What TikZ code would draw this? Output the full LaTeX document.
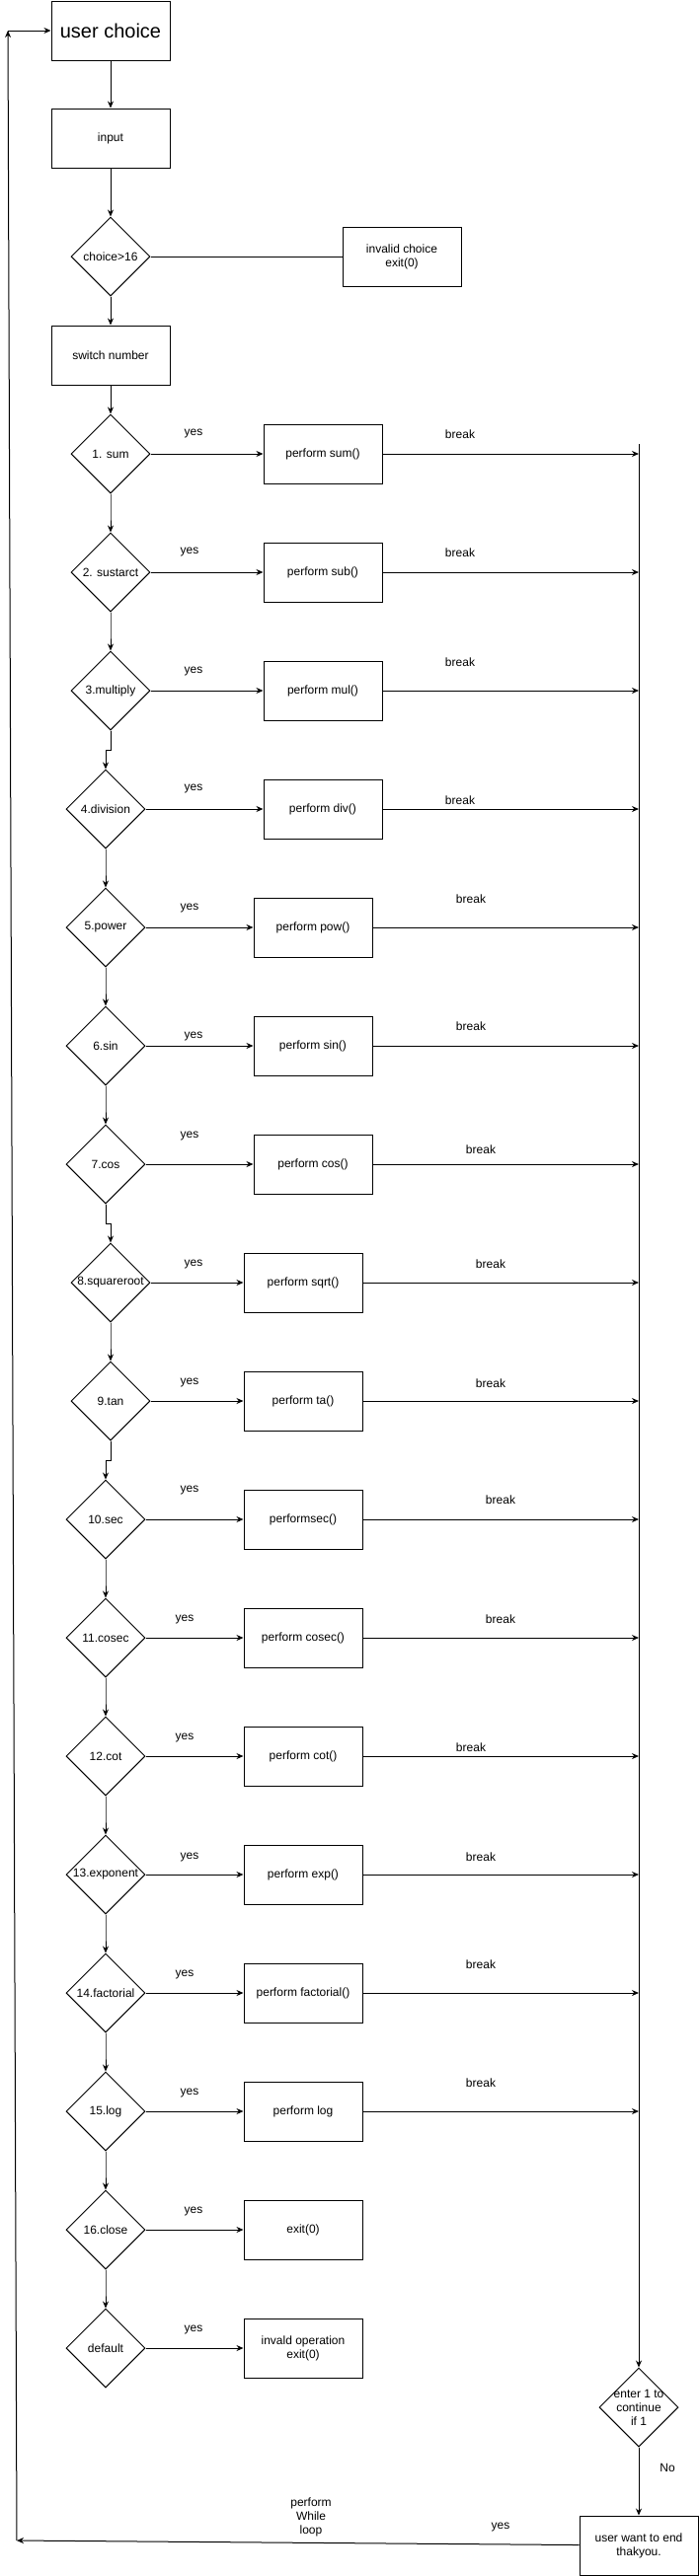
\documentclass[tikz,border=0pt]{standalone}
\usepackage{fontspec}
\setmainfont{Liberation Sans}
\usetikzlibrary{shapes.geometric,arrows.meta}

\begin{document}
\begin{tikzpicture}[x=1pt,y=-1pt,line width=1pt,
    box/.style={draw,rectangle,minimum width=120pt,minimum height=60pt,align=center,font=\fontsize{12}{14}\selectfont},
    dia/.style={draw,diamond,minimum width=80pt,minimum height=80pt,inner sep=0pt},
    arr/.style={-{Stealth[length=7pt,width=6pt]}},
    txt/.style={font=\fontsize{12}{14}\selectfont,align=center}]
    \useasboundingbox (0,0) rectangle (708,2611);
    \node[box,font=\fontsize{20}{24}\selectfont] (uc) at (112,31) {user choice};
    \node[box] (in) at (112,140) {input};
    \node[dia,label={[txt]center:choice>16}] (ch) at (112,260) {};
    \node[box] (inv) at (407,260) {invalid choice\\exit(0)};
    \node[box] (sw) at (112,360) {switch number};
    \draw[arr] (uc) -- (in);
    \draw[arr] (in) -- (ch);
    \draw (ch) -- (inv);
    \draw[arr] (ch) -- (sw);
    \foreach \i/\r/\cx/\lab/\bx/\op/\yx/\yy in {
      1/460/112/{1. sum}/327/{perform sum()}/196/-20,
      2/580/112/{2. sustarct}/327/{perform sub()}/192/-20,
      3/700/112/{3.multiply}/327/{perform mul()}/196/-19,
      4/820/107/{4.division}/327/{perform div()}/196/-20,
      5/940/107/{5.power}/317/{perform pow()}/192/-19,
      6/1060/107/{6.sin}/317/{perform sin()}/196/-10,
      7/1180/107/{7.cos}/317/{perform cos()}/192/-29,
      8/1300/112/{8.squareroot}/307/{perform sqrt()}/196/-19,
      9/1420/112/{9.tan}/307/{perform ta()}/192/-19,
      10/1540/107/{10.sec}/307/{performsec()}/192/-30,
      11/1660/107/{11.cosec}/307/{perform cosec()}/187/-19,
      12/1780/107/{12.cot}/307/{perform cot()}/187/-19,
      13/1900/107/{13.exponent}/307/{perform exp()}/192/-18,
      14/2020/107/{14.factorial}/307/{perform factorial()}/187/-19,
      15/2140/107/{15.log}/307/{perform log}/192/-19,
      16/2260/107/{16.close}/307/{exit(0)}/196/-19,
      17/2380/107/{default}/307/{invald operation\\exit(0)}/196/-19}
    {
      \node[dia,label={[txt]center:\lab}] (c\i) at (\cx,\r) {};
      \node[box] (p\i) at (\bx,\r) {\op};
      \draw[arr] (c\i) -- (p\i);
      \node[txt] (y\i) at (\yx,{\r+\yy}) {yes};
    }
    \draw[arr] (sw) -- (c1);
    \foreach \i [remember=\i as \k (initially 1)] in {2,...,17}
    \draw[arr] (c\k.south) -- ++(0,20) -| (c\i.north);
    \coordinate (rl) at (647,450);
    \foreach \i/\bx/\by in {1/466/-20,2/466/-20,3/466/-29,4/466/-9,5/477/-29,6/477/-20,7/487/-15,8/497/-19,9/497/-18,10/507/-20,11/507/-19,12/477/-9,13/487/-18,14/487/-29,15/487/-29}
    {
      \draw[arr] (p\i.east) -- (p\i.east -| rl);
      \node[txt] (b\i) at (\bx,{340+120*\i+\by}) {break};
    }
    \node[dia,label={[txt]center:enter 1 to\\continue\\if 1}] (en) at (647,2440) {};
    \node[box] (end) at (647,2580) {user want to end\\thakyou.};
    \draw[arr] (rl) -- (en);
    \draw[arr] (en) -- (end);
    \node[txt] (no) at (676,2501) {No};
    \coordinate (lb) at (17,2575);
    \coordinate (lt) at (8,31);
    \draw[arr] (end) -- (lb);
    \draw[arr] (lb) -- (lt);
    \draw[arr] (lt) -- (uc);
    \node[txt] (wl) at (315,2551) {perform\\While\\loop};
    \node[txt] (ye) at (507,2561) {yes};
\end{tikzpicture}
\end{document}
